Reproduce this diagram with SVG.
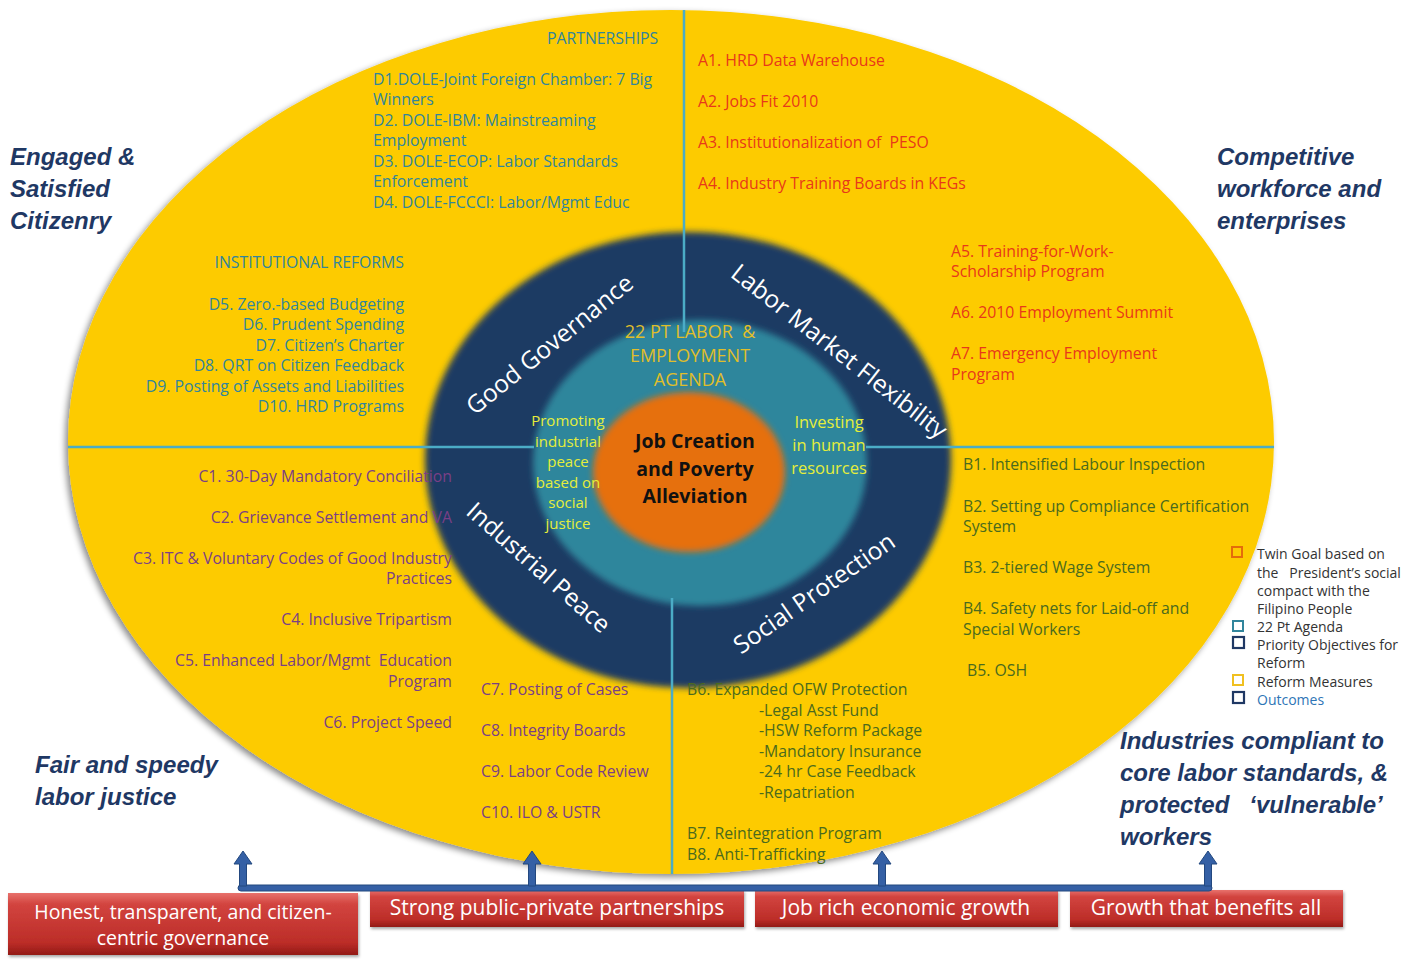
<svg xmlns="http://www.w3.org/2000/svg" width="1423" height="961" viewBox="0 0 1423 961">
  <style>
    .t { font-family: "Open Sans", "Liberation Sans", sans-serif; font-size: 15.8px; white-space: pre; }
    .d { fill: #31859C; }
    .a { fill: #E8381A; }
    .c { fill: #7A3F86; }
    .b { fill: #4A6A1E; }
    .end { text-anchor: end; }
    .ring { font-family: "Open Sans", "Liberation Sans", sans-serif; font-size: 24.5px; fill: #FFFFFF; text-anchor: middle; }
    .goal { font-family: "Liberation Sans", Arial, sans-serif; font-size: 24px; font-weight: bold; font-style: italic; fill: #1F3864; white-space: pre; }
    .agenda { font-family: "Open Sans", "Liberation Sans", sans-serif; font-size: 18px; fill: #E0BE2A; text-anchor: middle; white-space: pre; }
    .pillar { font-family: "Open Sans", "Liberation Sans", sans-serif; fill: #E6EE3A; text-anchor: middle; }
    .core { font-family: "Open Sans", "Liberation Sans", sans-serif; font-size: 19.5px; font-weight: bold; fill: #111111; text-anchor: middle; }
    .leg { font-family: "Open Sans", "Liberation Sans", sans-serif; font-size: 14px; fill: #333333; white-space: pre; }
    .box { font-family: "Open Sans", "Liberation Sans", sans-serif; font-size: 21px; fill: #FFFFFF; text-anchor: middle; }
    .box.small { font-size: 19.5px; }
    .sep { stroke: #4BACC6; stroke-width: 2.5; fill: none; }
    .arrow { fill: #3560A5; stroke: #23487F; stroke-width: 1; }
    .redbox { fill: url(#redGrad); filter: url(#boxShadow); }
  </style>
  <defs>
    <filter id="ellShadow" x="-5%" y="-5%" width="110%" height="110%">
      <feDropShadow dx="-3" dy="3" stdDeviation="3" flood-color="#000000" flood-opacity="0.45"/>
    </filter>
    <filter id="soft" x="-10%" y="-10%" width="120%" height="120%">
      <feGaussianBlur stdDeviation="3"/>
    </filter>
    <filter id="boxShadow" x="-5%" y="-20%" width="110%" height="150%">
      <feDropShadow dx="1" dy="2" stdDeviation="1.5" flood-color="#000000" flood-opacity="0.35"/>
    </filter>
    <linearGradient id="redGrad" x1="0" y1="0" x2="0" y2="1">
      <stop offset="0" stop-color="#E8716C"/>
      <stop offset="0.18" stop-color="#D2443F"/>
      <stop offset="0.8" stop-color="#BC2D28"/>
      <stop offset="1" stop-color="#921A16"/>
    </linearGradient>
  </defs>

  <rect width="1423" height="961" fill="#FFFFFF"/>

  <!-- concentric framework -->
  <g id="reform-measures-ring">
    <ellipse cx="671" cy="442" rx="603" ry="432" fill="#FDCB05" filter="url(#ellShadow)"/>
  </g>
  <g id="priority-objectives-ring">
    <ellipse cx="688" cy="460" rx="263" ry="228" fill="#1C3A64" filter="url(#soft)"/>
  </g>
  <g id="agenda-ring">
    <ellipse cx="700" cy="463" rx="167" ry="143" fill="#2F869C" filter="url(#soft)"/>
  </g>
  <g id="twin-goal">
    <ellipse cx="689" cy="472" rx="96" ry="80" fill="#E66F0A" filter="url(#soft)"/>
  </g>

  <!-- quadrant separators -->
  <g id="separators">
    <line class="sep" x1="684" y1="10" x2="684" y2="332"/>
    <line class="sep" x1="68" y1="447" x2="534" y2="447"/>
    <line class="sep" x1="866" y1="447" x2="1274" y2="447"/>
    <line class="sep" x1="672" y1="598" x2="672" y2="874"/>
  </g>

  <!-- ring labels -->
  <g id="label-good-governance">
    <text class="ring" transform="translate(555,351) rotate(-39)">Good Governance</text>
  </g>
  <g id="label-labor-market">
    <text class="ring" transform="translate(834,358) rotate(38)">Labor Market Flexibility</text>
  </g>
  <g id="label-industrial-peace">
    <text class="ring" transform="translate(533,574) rotate(41.5)">Industrial Peace</text>
  </g>
  <g id="label-social-protection">
    <text class="ring" transform="translate(819,600) rotate(-35)">Social Protection</text>
  </g>

  <!-- agenda and core -->
  <g id="agenda-title">
    <text class="agenda" x="690" y="338">22 PT LABOR  &amp;</text>
    <text class="agenda" x="690" y="362">EMPLOYMENT</text>
    <text class="agenda" x="690" y="386">AGENDA</text>
  </g>
  <g id="pillar-industrial-peace">
    <text class="pillar" font-size="15" x="568" y="426">Promoting</text>
    <text class="pillar" font-size="15" x="568" y="447">industrial</text>
    <text class="pillar" font-size="15" x="568" y="467">peace</text>
    <text class="pillar" font-size="15" x="568" y="488">based on</text>
    <text class="pillar" font-size="15" x="568" y="508">social</text>
    <text class="pillar" font-size="15" x="568" y="529">justice</text>
  </g>
  <g id="pillar-human-resources">
    <text class="pillar" font-size="16.5" x="829" y="428">Investing</text>
    <text class="pillar" font-size="16.5" x="829" y="451">in human</text>
    <text class="pillar" font-size="16.5" x="829" y="474">resources</text>
  </g>
  <g id="core-goal">
    <text class="core" x="695" y="448">Job Creation</text>
    <text class="core" x="695" y="476">and Poverty</text>
    <text class="core" x="695" y="503">Alleviation</text>
  </g>

  <!-- reform measures: partnerships -->
  <g id="partnerships">
    <text class="t d" x="547" y="44">PARTNERSHIPS</text>
    <text class="t d" x="373" y="85">D1.DOLE-Joint Foreign Chamber: 7 Big</text>
    <text class="t d" x="373" y="105">Winners</text>
    <text class="t d" x="373" y="126">D2. DOLE-IBM: Mainstreaming</text>
    <text class="t d" x="373" y="146">Employment</text>
    <text class="t d" x="373" y="167">D3. DOLE-ECOP: Labor Standards</text>
    <text class="t d" x="373" y="187">Enforcement</text>
    <text class="t d" x="373" y="208">D4. DOLE-FCCCI: Labor/Mgmt Educ</text>
  </g>

  <!-- reform measures: institutional reforms -->
  <g id="institutional-reforms">
    <text class="t d end" x="404" y="268">INSTITUTIONAL REFORMS</text>
    <text class="t d end" x="404" y="310">D5. Zero.-based Budgeting</text>
    <text class="t d end" x="404" y="330">D6. Prudent Spending</text>
    <text class="t d end" x="404" y="351">D7. Citizen’s Charter</text>
    <text class="t d end" x="404" y="371">D8. QRT on Citizen Feedback</text>
    <text class="t d end" x="404" y="392">D9. Posting of Assets and Liabilities</text>
    <text class="t d end" x="404" y="412">D10. HRD Programs</text>
  </g>

  <!-- reform measures: labor market -->
  <g id="labor-market-measures">
    <text class="t a" x="698" y="66">A1. HRD Data Warehouse</text>
    <text class="t a" x="698" y="107">A2. Jobs Fit 2010</text>
    <text class="t a" x="698" y="148">A3. Institutionalization of  PESO</text>
    <text class="t a" x="698" y="189">A4. Industry Training Boards in KEGs</text>
    <text class="t a" x="951" y="257">A5. Training-for-Work-</text>
    <text class="t a" x="951" y="277">Scholarship Program</text>
    <text class="t a" x="951" y="318">A6. 2010 Employment Summit</text>
    <text class="t a" x="951" y="359">A7. Emergency Employment</text>
    <text class="t a" x="951" y="380">Program</text>
  </g>

  <!-- reform measures: industrial peace -->
  <g id="industrial-peace-measures">
    <text class="t c end" x="452" y="482">C1. 30-Day Mandatory Conciliation</text>
    <text class="t c end" x="452" y="523">C2. Grievance Settlement and VA</text>
    <text class="t c end" x="452" y="564">C3. ITC &amp; Voluntary Codes of Good Industry</text>
    <text class="t c end" x="452" y="584">Practices</text>
    <text class="t c end" x="452" y="625">C4. Inclusive Tripartism</text>
    <text class="t c end" x="452" y="666">C5. Enhanced Labor/Mgmt  Education</text>
    <text class="t c end" x="452" y="687">Program</text>
    <text class="t c end" x="452" y="728">C6. Project Speed</text>
    <text class="t c" x="481" y="695">C7. Posting of Cases</text>
    <text class="t c" x="481" y="736">C8. Integrity Boards</text>
    <text class="t c" x="481" y="777">C9. Labor Code Review</text>
    <text class="t c" x="481" y="818">C10. ILO &amp; USTR</text>
  </g>

  <!-- reform measures: social protection -->
  <g id="social-protection-measures">
    <text class="t b" x="963" y="470">B1. Intensified Labour Inspection</text>
    <text class="t b" x="963" y="512">B2. Setting up Compliance Certification</text>
    <text class="t b" x="963" y="532">System</text>
    <text class="t b" x="963" y="573">B3. 2-tiered Wage System</text>
    <text class="t b" x="963" y="614">B4. Safety nets for Laid-off and</text>
    <text class="t b" x="963" y="635">Special Workers</text>
    <text class="t b" x="967" y="676">B5. OSH</text>
    <text class="t b" x="687" y="695">B6. Expanded OFW Protection</text>
    <text class="t b" x="759" y="716">-Legal Asst Fund</text>
    <text class="t b" x="759" y="736">-HSW Reform Package</text>
    <text class="t b" x="759" y="757">-Mandatory Insurance</text>
    <text class="t b" x="759" y="777">-24 hr Case Feedback</text>
    <text class="t b" x="759" y="798">-Repatriation</text>
    <text class="t b" x="687" y="839">B7. Reintegration Program</text>
    <text class="t b" x="687" y="860">B8. Anti-Trafficking</text>
  </g>

  <!-- outcomes -->
  <g id="outcome-citizenry">
    <text class="goal" x="10" y="165">Engaged &amp;</text>
    <text class="goal" x="10" y="197">Satisfied</text>
    <text class="goal" x="10" y="229">Citizenry</text>
  </g>
  <g id="outcome-competitive">
    <text class="goal" x="1217" y="165">Competitive</text>
    <text class="goal" x="1217" y="197">workforce and</text>
    <text class="goal" x="1217" y="229">enterprises</text>
  </g>
  <g id="outcome-labor-justice">
    <text class="goal" x="35" y="773">Fair and speedy</text>
    <text class="goal" x="35" y="805">labor justice</text>
  </g>
  <g id="outcome-compliant">
    <text class="goal" x="1120" y="749">Industries compliant to</text>
    <text class="goal" x="1120" y="781">core labor standards, &amp;</text>
    <text class="goal" x="1120" y="813">protected   ‘vulnerable’</text>
    <text class="goal" x="1120" y="845">workers</text>
  </g>

  <!-- legend -->
  <g id="legend">
    <rect x="1232" y="547" width="10" height="10" fill="none" stroke="#E46C0A" stroke-width="2"/>
    <text class="leg" x="1257" y="559">Twin Goal based on</text>
    <text class="leg" x="1257" y="578">the   President’s social</text>
    <text class="leg" x="1257" y="596">compact with the</text>
    <text class="leg" x="1257" y="614">Filipino People</text>
    <rect x="1233" y="621" width="10" height="10" fill="none" stroke="#31859C" stroke-width="2"/>
    <text class="leg" x="1257" y="632">22 Pt Agenda</text>
    <rect x="1233" y="637" width="11" height="11" fill="none" stroke="#1F3864" stroke-width="2.2"/>
    <text class="leg" x="1257" y="650">Priority Objectives for</text>
    <text class="leg" x="1257" y="668">Reform</text>
    <rect x="1233" y="675" width="10" height="10" fill="none" stroke="#F0C020" stroke-width="2"/>
    <text class="leg" x="1257" y="687">Reform Measures</text>
    <rect x="1233" y="692" width="11" height="11" fill="none" stroke="#1F3864" stroke-width="2.2"/>
    <text class="leg" x="1257" y="705" style="fill:#2E75B6">Outcomes</text>
  </g>

  <!-- strategy boxes -->
  <g id="strategy-governance">
    <rect class="redbox" x="8" y="893" width="350" height="62"/>
    <text class="box small" x="183" y="919">Honest, transparent, and citizen-</text>
    <text class="box small" x="183" y="945">centric governance</text>
  </g>
  <g id="strategy-partnerships">
    <rect class="redbox" x="370" y="890" width="374" height="37"/>
    <text class="box" x="557" y="915">Strong public-private partnerships</text>
  </g>
  <g id="strategy-growth">
    <rect class="redbox" x="755" y="890" width="303" height="37"/>
    <text class="box" x="906" y="915">Job rich economic growth</text>
  </g>
  <g id="strategy-benefits">
    <rect class="redbox" x="1070" y="890" width="273" height="37"/>
    <text class="box" x="1206" y="915">Growth that benefits all</text>
  </g>

  <!-- connectors: strategies feeding the outcomes -->
  <g id="connectors">
    <rect class="arrow" x="238" y="885" width="974" height="6" rx="3"/>
    <polygon class="arrow" points="243,851 252,864 246.5,864 246.5,886 239.5,886 239.5,864 234,864"/>
    <polygon class="arrow" points="532,851 541,864 535.5,864 535.5,886 528.5,886 528.5,864 523,864"/>
    <polygon class="arrow" points="882,851 891,864 885.5,864 885.5,886 878.5,886 878.5,864 873,864"/>
    <polygon class="arrow" points="1208,851 1217,864 1211.5,864 1211.5,886 1204.5,886 1204.5,864 1199,864"/>
  </g>
</svg>
